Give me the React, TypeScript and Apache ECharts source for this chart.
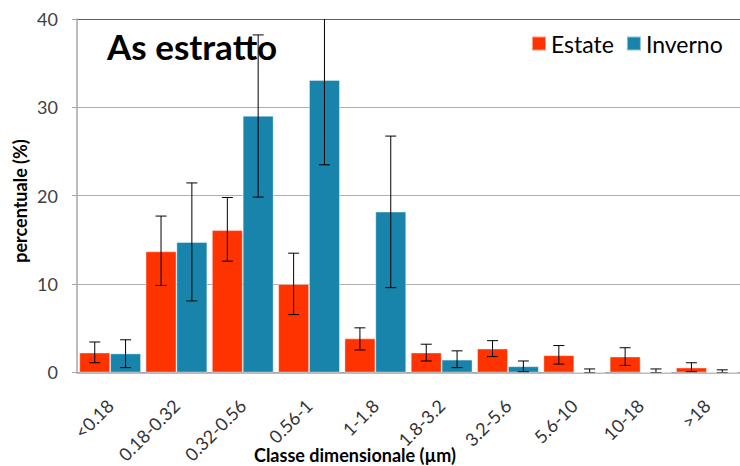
import React, { useEffect, useRef } from "react";
import * as echarts from "echarts";

const categories = ["<0.18", "0.18-0.32", "0.32-0.56", "0.56-1", "1-1.8", "1.8-3.2", "3.2-5.6", "5.6-10", "10-18", ">18"];
const estate = [2.25, 13.7, 16.1, 10.0, 3.85, 2.25, 2.7, 1.95, 1.8, 0.55];
const estateLow = [1.1, 9.85, 12.6, 6.55, 2.55, 1.3, 1.8, 0.95, 0.8, 0.08];
const estateHigh = [3.45, 17.7, 19.8, 13.5, 5.05, 3.2, 3.6, 3.05, 2.8, 1.1];
const inverno = [2.15, 14.75, 29.05, 33.1, 18.2, 1.45, 0.7, 0, 0, 0];
const invernoLow = [0.55, 8.1, 19.85, 23.5, 9.6, 0.55, 0.08, 0, 0, 0];
const invernoHigh = [3.7, 21.45, 38.2, 42.7, 26.75, 2.45, 1.3, 0.4, 0.4, 0.3];
const yTicks = [0, 10, 20, 30, 40];

const FONT = "Lato, 'Open Sans', sans-serif";
const RED = "#FF3300";
const BLUE = "#1884AC";
const GAP = 0.07;

function errSeries(low: number[], high: number[], side: number) {
  return {
    type: "custom",
    silent: true,
    clip: true,
    z: 10,
    data: low.map((l, i) => [i, l, high[i]]),
    renderItem: (params: any, api: any) => {
      const i = api.value(0);
      const lo = api.coord([i, api.value(1)]);
      const hi = api.coord([i, api.value(2)]);
      const band = api.size([1, 0])[0];
      const bw = (band * (1 - GAP)) / 2;
      const x = lo[0] + side * bw / 2;
      const cap = 5.5;
      const style = { stroke: "#000", lineWidth: 1 };
      return {
        type: "group",
        children: [
          { type: "line", shape: { x1: x, y1: lo[1], x2: x, y2: hi[1] }, style },
          { type: "line", shape: { x1: x - cap, y1: lo[1], x2: x + cap, y2: lo[1] }, style },
          { type: "line", shape: { x1: x - cap, y1: hi[1], x2: x + cap, y2: hi[1] }, style },
        ],
      };
    },
  };
}

export default function App() {
  const ref = useRef<HTMLDivElement>(null);
  useEffect(() => {
    if (!ref.current) return;
    const chart = echarts.init(ref.current, undefined, { renderer: "svg" });
    chart.setOption({
      animation: false,
      textStyle: { fontFamily: FONT },
      grid: { left: 77, top: 19, width: 668, height: 355, containLabel: false },
      legend: {
        left: 531,
        top: 32,
        padding: 0,
        itemWidth: 14,
        itemHeight: 14,
        itemGap: 12,
        icon: "rect",
        textStyle: { fontSize: 23, color: "#000", fontFamily: FONT },
        data: ["Estate", "Inverno"],
      },
      graphic: [
        {
          type: "text",
          x: 107,
          y: 46,
          style: { text: "As estratto", font: `bold 35px ${FONT}`, fill: "#000", textVerticalAlign: "middle" },
          z: 20,
        },
        {
          type: "text",
          x: 355,
          y: 455,
          style: {
            text: "Classe dimensionale (µm)",
            font: `bold 18px ${FONT}`,
            fill: "#000",
            textAlign: "center",
            textVerticalAlign: "middle",
          },
        },
        {
          type: "text",
          x: 20,
          y: 201,
          rotation: Math.PI / 2,
          style: {
            text: "percentuale (%)",
            font: `bold 18px ${FONT}`,
            fill: "#000",
            textAlign: "center",
            textVerticalAlign: "middle",
          },
        },
      ],
      xAxis: {
        type: "category",
        data: categories,
        axisLine: { lineStyle: { color: "#a6a6a6", width: 1.5 } },
        axisTick: { show: false },
        axisLabel: { rotate: 45, interval: 0, fontSize: 18, color: "#333", margin: 30, fontFamily: FONT },
      },
      yAxis: {
        type: "value",
        min: yTicks[0],
        max: yTicks[yTicks.length - 1],
        interval: 10,
        axisLine: { show: true, lineStyle: { color: "#a6a6a6", width: 1.5 } },
        axisTick: { show: true, length: 5, lineStyle: { color: "#a6a6a6" } },
        axisLabel: { fontSize: 18, color: "#404040", margin: 19, fontFamily: FONT },
        splitLine: {
          lineStyle: { color: ["#a6a6a6", "#b0b0b0", "#b0b0b0", "#b0b0b0", "#606060"], width: 1.2 },
        },
      },
      series: [
        {
          name: "Estate",
          type: "bar",
          data: estate,
          barGap: "0%",
          barCategoryGap: GAP * 100 + "%",
          itemStyle: { color: RED, borderColor: "rgba(255,255,255,0.5)", borderWidth: 0.8 },
        },
        {
          name: "Inverno",
          type: "bar",
          data: inverno,
          barGap: "0%",
          barCategoryGap: GAP * 100 + "%",
          itemStyle: { color: BLUE, borderColor: "rgba(255,255,255,0.5)", borderWidth: 0.8 },
        },
        errSeries(estateLow, estateHigh, -1),
        errSeries(invernoLow, invernoHigh, 1),
      ],
    });
    return () => chart.dispose();
  }, []);
  return <div ref={ref} style={{ position: "absolute", left: 0, top: 0, width: 740, height: 466 }} />;
}
